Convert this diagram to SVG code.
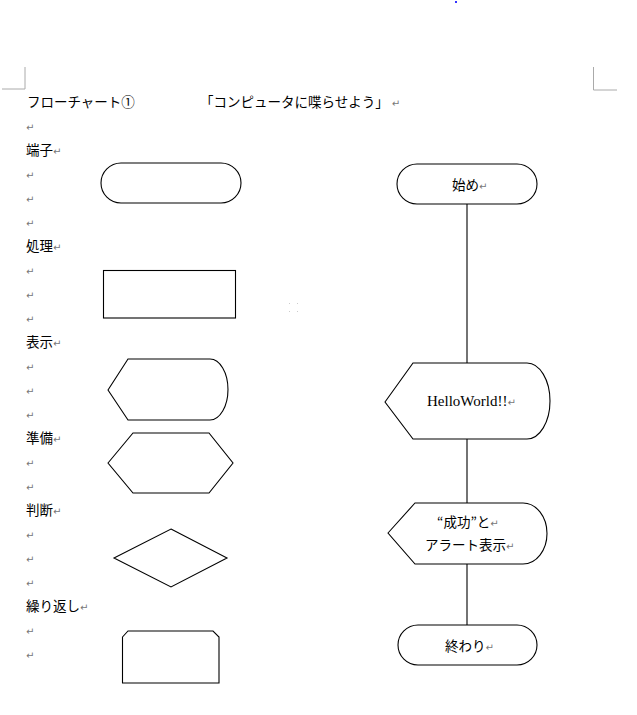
<svg xmlns="http://www.w3.org/2000/svg" width="637" height="715" viewBox="0 0 637 715">
<style>
.t{font-family:"Noto Sans CJK JP","Noto Sans CJK SC",sans-serif;font-size:13.5px;fill:#000}
.s{font-family:"Liberation Serif","Noto Sans CJK JP",serif;font-size:15px;fill:#000}
.rm{font-family:"DejaVu Sans",sans-serif;font-size:10px;fill:#777}
.sh{fill:#fff;stroke:#000;stroke-width:1.1}
.cn{stroke:#000;stroke-width:1.1;fill:none}
.cm{stroke:#aaa;stroke-width:1;fill:none}
</style>
<rect width="637" height="715" fill="#fff"/>
<g id="page-marks">
<path class="cm" d="M25,67 V89 H2"/>
<path class="cm" d="M593.5,67 V90 H617"/>
<rect x="455" y="1" width="2" height="2" fill="#33f"/>
<g fill="#ccc"><rect x="289" y="303" width="1" height="1"/><rect x="297" y="303" width="1" height="1"/><rect x="289" y="311" width="1" height="1"/><rect x="297" y="311" width="1" height="1"/></g>
</g>
<g id="title">
<text class="t" x="27" y="107">フローチャート①</text>
<text class="t" x="200" y="107">「コンピュータに喋らせよう」<tspan class="rm" dx="3">↵</tspan></text>
</g>
<g id="legend-labels">
<text class="rm" x="26" y="131">↵</text>
<text class="t" x="26" y="155">端子<tspan class="rm">↵</tspan></text>
<text class="rm" x="26" y="179">↵</text>
<text class="rm" x="26" y="203">↵</text>
<text class="rm" x="26" y="227">↵</text>
<text class="t" x="26" y="251">処理<tspan class="rm">↵</tspan></text>
<text class="rm" x="26" y="275">↵</text>
<text class="rm" x="26" y="299">↵</text>
<text class="rm" x="26" y="323">↵</text>
<text class="t" x="26" y="347">表示<tspan class="rm">↵</tspan></text>
<text class="rm" x="26" y="371">↵</text>
<text class="rm" x="26" y="395">↵</text>
<text class="rm" x="26" y="419">↵</text>
<text class="t" x="26" y="443">準備<tspan class="rm">↵</tspan></text>
<text class="rm" x="26" y="467">↵</text>
<text class="rm" x="26" y="491">↵</text>
<text class="t" x="26" y="515">判断<tspan class="rm">↵</tspan></text>
<text class="rm" x="26" y="539">↵</text>
<text class="rm" x="26" y="563">↵</text>
<text class="rm" x="26" y="587">↵</text>
<text class="t" x="26" y="611">繰り返し<tspan class="rm">↵</tspan></text>
<text class="rm" x="26" y="635">↵</text>
<text class="rm" x="26" y="659">↵</text>
</g>
<g id="legend-terminal"><rect class="sh" x="101" y="163" width="140" height="40" rx="20"/></g>
<g id="legend-process"><rect class="sh" x="103.5" y="270.5" width="132" height="47.5"/></g>
<g id="legend-display"><path class="sh" d="M108,390 L128,359 L210,359 A18,30.5 0 0 1 210,420 L128,420 Z"/></g>
<g id="legend-preparation"><path class="sh" d="M108,463 L133,433 L209,433 L233,463 L209,493 L133,493 Z"/></g>
<g id="legend-decision"><path class="sh" d="M171,529 L227,558 L171,587 L114,558 Z"/></g>
<g id="legend-loop"><path class="sh" d="M122.5,637 L128,631 L213,631 L219,637 L219,683 L122.5,683 Z"/></g>
<g id="connectors">
<line class="cn" x1="467" y1="204" x2="467" y2="363"/>
<line class="cn" x1="467" y1="439" x2="467" y2="503"/>
<line class="cn" x1="467" y1="564" x2="467" y2="625"/>
</g>
<g id="start">
<rect class="sh" x="397" y="164" width="140" height="40" rx="20"/>
<text class="t" x="452" y="190">始め<tspan class="rm">↵</tspan></text>
</g>
<g id="hello">
<path class="sh" d="M385,402 L413,363 L527,363 A23,38 0 0 1 527,439 L413,439 Z"/>
<text class="s" x="427" y="406">HelloWorld!!<tspan class="rm">↵</tspan></text>
</g>
<g id="alert">
<path class="sh" d="M388,533 L415,503 L523,503 A24,30.5 0 0 1 523,564 L415,564 Z"/>
<text class="t" x="437" y="527">“成功”と<tspan class="rm">↵</tspan></text>
<text class="t" x="425" y="550">アラート表示<tspan class="rm">↵</tspan></text>
</g>
<g id="end">
<rect class="sh" x="398" y="625" width="139" height="40" rx="20"/>
<text class="t" x="445" y="651">終わり<tspan class="rm">↵</tspan></text>
</g>
</svg>
